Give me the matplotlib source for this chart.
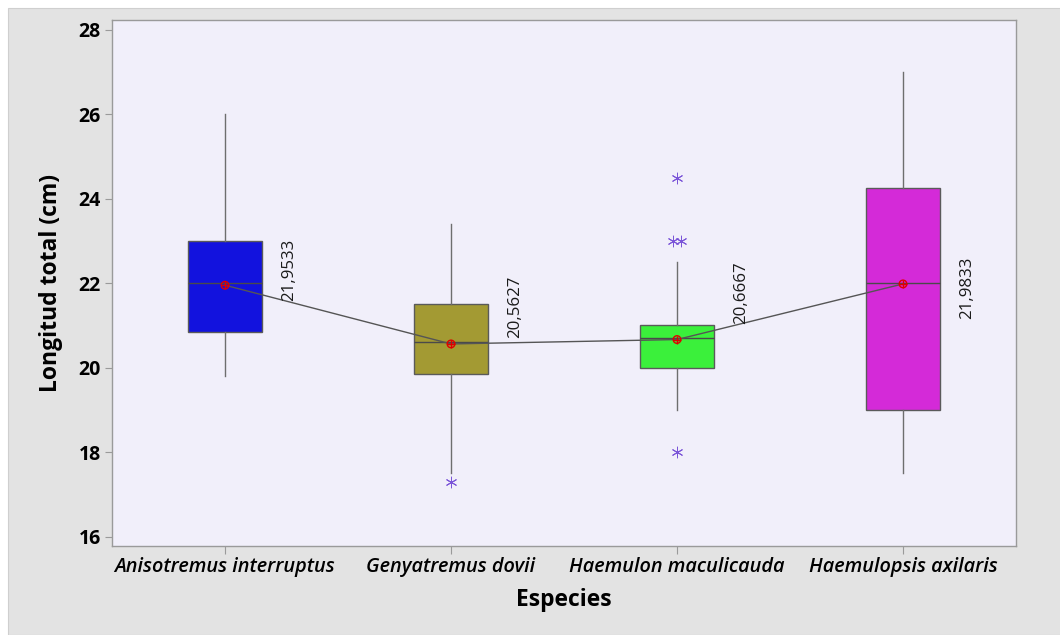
import matplotlib.pyplot as plt
from matplotlib.patches import Rectangle
from matplotlib.markers import MarkerStyle
import numpy as np

plt.rcParams['font.family'] = ['Open Sans', 'DejaVu Sans']

# summary values per species (cm)
especies = ['Anisotremus interruptus', 'Genyatremus dovii',
            'Haemulon maculicauda', 'Haemulopsis axilaris']
q1 = [20.85, 19.85, 20.0, 19.0]
mediana = [22.0, 20.6, 20.7, 22.0]
q3 = [23.0, 21.5, 21.0, 24.25]
bigote_inf = [19.8, 17.5, 19.0, 17.5]
bigote_sup = [26.0, 23.4, 22.5, 27.0]
media = [21.9533, 20.5627, 20.6667, 21.9833]
atipicos = [[], [17.3], [24.5, 23.0, 23.0, 18.0], []]

colores = ['#1212de', '#a39a33', '#3bf03b', '#d42ad8']
# small vertical nudge (points) for the rotated mean labels
nudge = [11, 27, 34, -3]

fig = plt.figure(figsize=(10.6, 6.35), dpi=100, facecolor='white')
fig.patches.append(Rectangle((8 / 1060, 0), 1, 1 - 8 / 635, transform=fig.transFigure,
                             facecolor='#e3e3e3', edgecolor='#cfcfcf', lw=0.8, zorder=-10))
ax = fig.add_axes([112 / 1060, 1 - 546 / 635, 904 / 1060, 526 / 635])
ax.set_facecolor('#f1effa')

pos = np.arange(1, len(especies) + 1)
stats = []
for i in range(len(especies)):
    stats.append(dict(med=mediana[i], q1=q1[i], q3=q3[i], whislo=bigote_inf[i],
                      whishi=bigote_sup[i], fliers=[], mean=media[i], label=especies[i]))

bp = ax.bxp(stats, positions=pos, widths=0.33, patch_artist=True, showcaps=False,
            showfliers=False, showmeans=False,
            boxprops=dict(edgecolor='#5a5a5a', linewidth=1),
            medianprops=dict(color='#4a4a4a', linewidth=1),
            whiskerprops=dict(color='#6e6e6e', linewidth=1))
for patch, c in zip(bp['boxes'], colores):
    patch.set_facecolor(c)

# outliers, duplicates placed side by side
star = MarkerStyle((6, 2, 0))
for i, vals in enumerate(atipicos):
    for v in sorted(set(vals)):
        n = vals.count(v)
        xs = pos[i] + (np.arange(n) - (n - 1) / 2) * 0.035
        ax.scatter(xs, [v] * n, marker=star, s=60, color='#7b55d8', linewidths=0.7, zorder=4)

# mean connect line and mean symbols
ax.plot(pos, media, color='#555555', lw=1, zorder=3)
ax.scatter(pos, media, s=30, facecolors='none', edgecolors='#e00000', linewidths=1, zorder=5)
ax.scatter(pos, media, s=30, marker='+', color='#e00000', linewidths=1, zorder=5)

for i, m in enumerate(media):
    ax.annotate(f'{m:.4f}'.replace('.', ','), (pos[i] + 0.285, m), xytext=(0, nudge[i]),
                textcoords='offset points', rotation=90, ha='center', va='center',
                fontsize=12.2, color='#1a1a1a')

ax.set_xlim(0.5, 4.5)
ax.set_ylim(15.78, 28.23)
ax.set_yticks([16, 18, 20, 22, 24, 26, 28])
ax.set_xticks(pos)
ax.set_xticklabels(especies, fontstyle='italic', fontweight='semibold', fontsize=14.3)
ax.tick_params(axis='y', labelsize=14, length=5, color='#9a9a9a', width=0.8, pad=3)
ax.tick_params(axis='x', length=6, color='#9a9a9a', width=0.8, pad=2)
for t in ax.get_yticklabels():
    t.set_fontweight('bold')
for s in ax.spines.values():
    s.set_color('#9a9a9a')
    s.set_linewidth(1)

ax.set_xlabel('Especies', fontsize=16.5, fontweight='bold', labelpad=8)
ax.set_ylabel('Longitud total (cm)', fontsize=16.5, fontweight='bold', labelpad=11)

fig.savefig('out.png', dpi=100, facecolor='white')
